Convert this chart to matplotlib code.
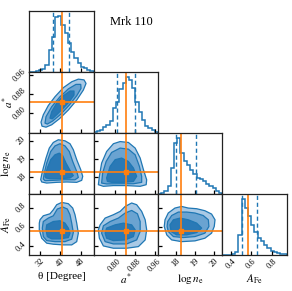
import numpy as np
import matplotlib
matplotlib.use("Agg")
import matplotlib.pyplot as plt

plt.rcParams['font.family'] = ['Liberation Serif', 'DejaVu Serif']
plt.rcParams['mathtext.fontset'] = 'stix'

# ---------------- data ----------------
param_labels = [r"θ [Degree]", r"$a^{*}$", r"$\log n_{\rm e}$", r"$A_{\rm Fe}$"]
param_ranges = [(27.8, 53.0), (0.716, 0.973), (17.08, 20.45), (0.31, 0.95)]
param_ticks = [[32, 40, 48], [0.80, 0.88, 0.96], [18, 19, 20], [0.4, 0.6, 0.8]]
param_ticklabels = [["32", "40", "48"], ["0.80", "0.88", "0.96"],
                    ["18", "19", "20"], ["0.4", "0.6", "0.8"]]
truths = [40.55, 0.845, 18.29, 0.565]
quantiles_lo = [37.2, 0.809, 18.01, 0.51]
quantiles_hi = [43.4, 0.883, 19.05, 0.66]

theta_counts = [0, 0, 1, 3, 5, 12, 39, 63, 99, 100, 84, 69, 51, 36, 24, 15, 9, 6, 3, 1]
astar_counts = [2, 4, 5, 10, 14, 22, 44, 56, 79, 89, 100, 95, 80, 56, 38, 23, 13, 8, 5, 2]
logn_counts = [0, 1, 5, 14, 47, 91, 100, 74, 59, 53, 44, 35, 29, 26, 23, 18, 14, 10, 6, 2]
afe_counts = [0, 0, 0, 1, 6, 36, 100, 85, 70, 54, 42, 31, 25, 18, 12, 8, 5, 3, 2, 1]

# contours (outer, middle, inner) for each pair
th_a_outer_x = [32.78, 32.39, 33.29, 35.25, 37.87, 41.13, 44.42, 47.01, 49.24, 50.03, 48.97, 46.38, 43.09, 39.56, 36.58, 34.35]
th_a_outer_y = [0.744, 0.761, 0.792, 0.831, 0.868, 0.906, 0.931, 0.942, 0.939, 0.924, 0.896, 0.854, 0.812, 0.775, 0.750, 0.740]
th_a_mid_x = [33.95, 34.35, 36.58, 39.83, 43.09, 46.10, 47.95, 48.07, 46.38, 43.48, 40.11, 37.00, 34.86]
th_a_mid_y = [0.757, 0.784, 0.826, 0.868, 0.901, 0.920, 0.920, 0.903, 0.872, 0.833, 0.794, 0.766, 0.753]
th_a_in_x = [35.91, 36.58, 38.54, 41.13, 43.75, 45.32, 45.32, 43.48, 41.13, 38.54, 36.82]
th_a_in_y = [0.778, 0.805, 0.841, 0.872, 0.892, 0.892, 0.875, 0.847, 0.820, 0.792, 0.775]

th_n_outer_x = [32.27, 32.66, 33.29, 34.35, 35.64, 37.21, 39.17, 41.79, 43.75, 45.05, 46.38, 47.95, 48.73, 48.34, 46.38, 42.46, 38.54, 34.62, 32.66]
th_n_outer_y = [17.87, 18.14, 18.51, 19.06, 19.61, 19.92, 20.07, 20.01, 19.85, 19.52, 18.97, 18.42, 18.05, 17.83, 17.72, 17.74, 17.72, 17.68, 17.74]
th_n_mid_x = [33.29, 33.68, 34.62, 36.19, 37.87, 39.83, 41.79, 43.48, 44.81, 46.38, 47.01, 45.71, 41.79, 37.21, 33.95]
th_n_mid_y = [17.90, 18.23, 18.78, 19.42, 19.73, 19.85, 19.73, 19.42, 18.87, 18.32, 17.99, 17.86, 17.86, 17.83, 17.81]
th_n_in_x = [33.95, 34.86, 36.19, 37.87, 39.56, 40.89, 42.19, 43.75, 45.05, 43.75, 39.83, 35.91, 34.35]
th_n_in_y = [18.05, 18.51, 18.97, 19.24, 19.33, 19.19, 18.78, 18.38, 18.09, 17.96, 17.92, 17.92, 17.96]

th_f_outer_x = [31.99, 33.29, 35.91, 37.21, 38.54, 40.50, 43.09, 44.81, 45.71, 46.38, 47.01, 46.38, 44.42, 41.13, 37.21, 34.62, 32.66, 31.72, 31.72]
th_f_outer_y = [0.679, 0.721, 0.742, 0.784, 0.837, 0.861, 0.848, 0.802, 0.732, 0.644, 0.539, 0.450, 0.416, 0.416, 0.423, 0.434, 0.486, 0.574, 0.644]
th_f_mid_x = [33.29, 35.25, 37.21, 38.78, 40.89, 42.70, 43.75, 44.42, 45.05, 44.42, 41.79, 37.87, 34.62, 33.29, 32.90]
th_f_mid_y = [0.661, 0.697, 0.721, 0.792, 0.813, 0.792, 0.732, 0.644, 0.545, 0.476, 0.450, 0.450, 0.461, 0.503, 0.592]
th_f_in_x = [34.62, 37.21, 39.83, 41.79, 43.09, 43.75, 43.09, 39.83, 36.58, 34.86, 34.35]
th_f_in_y = [0.626, 0.661, 0.669, 0.644, 0.592, 0.539, 0.493, 0.479, 0.479, 0.503, 0.574]

a_n_outer_x = [0.735, 0.739, 0.748, 0.768, 0.795, 0.822, 0.855, 0.882, 0.902, 0.915, 0.928, 0.926, 0.902, 0.848, 0.795, 0.755]
a_n_outer_y = [17.59, 18.05, 18.78, 19.42, 19.85, 19.97, 19.92, 19.61, 19.06, 18.42, 17.86, 17.59, 17.50, 17.54, 17.54, 17.50]
a_n_mid_x = [0.748, 0.752, 0.766, 0.788, 0.822, 0.855, 0.882, 0.899, 0.908, 0.908, 0.875, 0.822, 0.768]
a_n_mid_y = [17.68, 18.23, 18.87, 19.37, 19.61, 19.55, 19.24, 18.60, 18.05, 17.72, 17.64, 17.64, 17.63]
a_n_in_x = [0.768, 0.782, 0.802, 0.828, 0.855, 0.875, 0.888, 0.875, 0.835, 0.788, 0.771]
a_n_in_y = [17.96, 18.60, 18.97, 19.06, 18.87, 18.51, 18.05, 17.77, 17.72, 17.72, 17.77]

a_f_outer_x = [0.742, 0.762, 0.795, 0.822, 0.842, 0.868, 0.888, 0.908, 0.922, 0.928, 0.922, 0.895, 0.848, 0.795, 0.755, 0.739, 0.735]
a_f_outer_y = [0.626, 0.697, 0.732, 0.767, 0.819, 0.855, 0.837, 0.767, 0.679, 0.574, 0.468, 0.398, 0.381, 0.381, 0.405, 0.486, 0.574]
a_f_mid_x = [0.755, 0.782, 0.815, 0.842, 0.868, 0.891, 0.902, 0.902, 0.888, 0.848, 0.795, 0.762, 0.748]
a_f_mid_y = [0.616, 0.661, 0.697, 0.750, 0.777, 0.742, 0.661, 0.556, 0.468, 0.426, 0.426, 0.450, 0.539]
a_f_in_x = [0.768, 0.802, 0.835, 0.868, 0.882, 0.875, 0.842, 0.795, 0.768, 0.762]
a_f_in_y = [0.592, 0.626, 0.644, 0.626, 0.574, 0.503, 0.468, 0.461, 0.486, 0.539]

n_f_outer_x = [17.45, 17.62, 17.97, 18.32, 18.67, 19.11, 19.54, 19.89, 20.07, 20.03, 19.89, 19.54, 19.02, 18.32, 17.80, 17.54, 17.41]
n_f_outer_y = [0.679, 0.750, 0.802, 0.819, 0.802, 0.795, 0.774, 0.739, 0.679, 0.609, 0.539, 0.486, 0.458, 0.450, 0.468, 0.521, 0.609]
n_f_mid_x = [17.59, 17.80, 18.15, 18.59, 19.02, 19.45, 19.72, 19.75, 19.54, 19.02, 18.41, 17.89, 17.62, 17.56]
n_f_mid_y = [0.661, 0.724, 0.760, 0.760, 0.750, 0.724, 0.679, 0.609, 0.539, 0.503, 0.493, 0.503, 0.556, 0.609]
n_f_in_x = [17.71, 17.89, 18.24, 18.67, 19.11, 19.37, 19.11, 18.59, 18.06, 17.77]
n_f_in_y = [0.626, 0.679, 0.697, 0.679, 0.644, 0.592, 0.545, 0.521, 0.521, 0.556]

hist_counts = [theta_counts, astar_counts, logn_counts, afe_counts]
contours = {
    (1, 0): [(th_a_outer_x, th_a_outer_y), (th_a_mid_x, th_a_mid_y), (th_a_in_x, th_a_in_y)],
    (2, 0): [(th_n_outer_x, th_n_outer_y), (th_n_mid_x, th_n_mid_y), (th_n_in_x, th_n_in_y)],
    (3, 0): [(th_f_outer_x, th_f_outer_y), (th_f_mid_x, th_f_mid_y), (th_f_in_x, th_f_in_y)],
    (2, 1): [(a_n_outer_x, a_n_outer_y), (a_n_mid_x, a_n_mid_y), (a_n_in_x, a_n_in_y)],
    (3, 1): [(a_f_outer_x, a_f_outer_y), (a_f_mid_x, a_f_mid_y), (a_f_in_x, a_f_in_y)],
    (3, 2): [(n_f_outer_x, n_f_outer_y), (n_f_mid_x, n_f_mid_y), (n_f_in_x, n_f_in_y)],
}

# ---------------- style ----------------
blue = '#1f77b4'
fills = ['#a9c9e5', '#6aa3d1', '#2a79b6']
orange = '#ff7f0e'

fig, axes = plt.subplots(4, 4, figsize=(2.92, 2.91), dpi=100)
fig.subplots_adjust(left=0.1003, right=0.9815, bottom=0.1237, top=0.9632,
                    wspace=0, hspace=0)

n = 4
for i in range(n):
    for j in range(n):
        ax = axes[i, j]
        if j > i:
            ax.set_axis_off()
            continue
        for s in ax.spines.values():
            s.set_linewidth(0.9)
            s.set_color('#222222')
        ax.tick_params(direction='in', length=3, width=0.9, labelsize=6, pad=1.5)
        if i == j:
            counts = hist_counts[i]
            lo, hi = param_ranges[i]
            edges = np.linspace(lo, hi, len(counts) + 1)
            ax.stairs(counts, edges, color=blue, lw=1.1)
            ax.set_ylim(0, 1.1 * max(counts))
            ax.set_xlim(lo, hi)
            ax.axvline(quantiles_lo[i], color=blue, ls='--', lw=1.0, dashes=(3, 2))
            ax.axvline(quantiles_hi[i], color=blue, ls='--', lw=1.0, dashes=(3, 2))
            ax.axvline(truths[i], color=orange, lw=1.2)
            ax.set_yticks([])
        else:
            for k, (xs, ys) in enumerate(contours[(i, j)]):
                ax.fill(xs, ys, facecolor=fills[k], edgecolor=blue, lw=0.9, joinstyle='round')
            ax.set_xlim(*param_ranges[j])
            ax.set_ylim(*param_ranges[i])
            ax.axvline(truths[j], color=orange, lw=1.2)
            ax.axhline(truths[i], color=orange, lw=1.2)
            ax.plot([truths[j]], [truths[i]], 's', color=orange, ms=2.5)
            ax.set_yticks(param_ticks[i])
            if j == 0:
                ax.set_yticklabels(param_ticklabels[i], rotation=45, va='center')
                ax.set_ylabel(param_labels[i], fontsize=8)
                ax.yaxis.set_label_coords(-0.2 if i == 1 else -0.26, 0.5)
            else:
                ax.set_yticklabels([])
        ax.set_xticks(param_ticks[j])
        if i == n - 1:
            ax.set_xticklabels(param_ticklabels[j], rotation=45, ha='center')
            ax.set_xlabel(param_labels[j], fontsize=8)
            ax.xaxis.set_label_coords(0.5, -0.28)
        else:
            ax.set_xticklabels([])

fig.text(131 / 292, 1 - 22 / 291, "Mrk 110", ha='center', va='center', fontsize=9)

fig.savefig('out.png', dpi=100)
